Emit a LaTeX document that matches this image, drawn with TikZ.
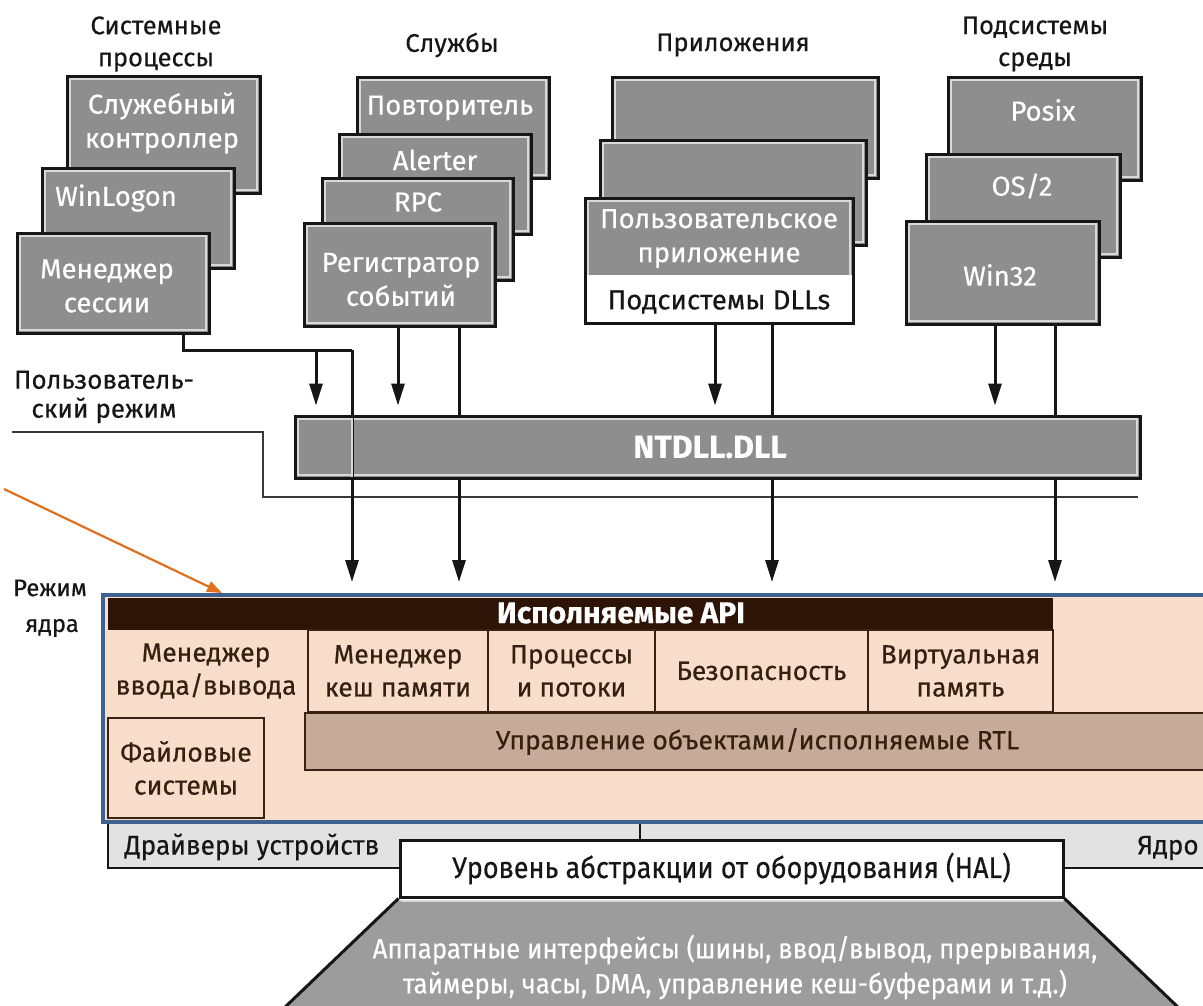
\documentclass[tikz,border=0pt]{standalone}
\usepackage{fontspec}
\setmainfont{Fira Sans}[FakeBold=0.4]
\usetikzlibrary{arrows.meta}

\definecolor{boxgray}{HTML}{8E8E8E}
\definecolor{boxrim}{HTML}{D9D9D9}
\definecolor{ink}{HTML}{161616}
\definecolor{peach}{HTML}{F9DDCB}
\definecolor{apibrown}{HTML}{2D1406}
\definecolor{cellline}{HTML}{3A2212}
\definecolor{celltext}{HTML}{33200F}
\definecolor{rtlfill}{HTML}{C8AA9A}
\definecolor{kframe}{HTML}{3E6190}
\definecolor{drvgray}{HTML}{E2E2E2}
\definecolor{hwgray}{HTML}{9C9C9C}
\definecolor{pointer}{HTML}{E0701E}

\tikzset{
  gbox/.style={draw=ink, line width=3pt, fill=boxgray, inner sep=0pt,
    path picture={\draw[boxrim, line width=1.5pt]
      ([shift={(3pt,-3pt)}]path picture bounding box.north west) rectangle
      ([shift={(-3pt,3pt)}]path picture bounding box.south east);}},
  dllbox/.style={draw=ink, line width=3pt, fill=white, inner sep=0pt,
    path picture={\fill[boxgray] (path picture bounding box.north west) rectangle
      ([yshift=-77pt]path picture bounding box.north east);
      \draw[boxrim, line width=1.5pt]
      ([shift={(3pt,-77pt)}]path picture bounding box.north west) |-
      ([shift={(-3pt,-3pt)}]path picture bounding box.north east) --
      ([shift={(-3pt,-77pt)}]path picture bounding box.north east);}},
  hdr/.style={inner sep=0pt, align=center, text=ink,
    font=\fontsize{25.5}{32}\selectfont},
  wtxt/.style={inner sep=0pt, align=center, text=white,
    font=\fontsize{27.5}{34}\selectfont},
  side/.style={inner sep=0pt, align=center, text=ink,
    font=\fontsize{26}{29}\selectfont},
  cell/.style={draw=cellline, line width=2.5pt, fill=peach, inner sep=0pt,
    align=center, text=celltext, font=\fontsize{26.5}{33}\selectfont},
  bound/.style={draw=ink!85, line width=2.5pt},
  wire/.style={draw=ink, line width=3pt},
  arr/.style={wire, -{Triangle[length=22pt,width=13pt]}},
  ptr/.style={draw=pointer, line width=2.2pt, -{Triangle[length=15pt,width=11pt]}},
}

\begin{document}
\begin{tikzpicture}[x=1pt,y=-1pt]
\useasboundingbox (0,0) rectangle (1203,1005);
\clip (0,0) rectangle (1203,1005);
\fill[white] (0,0) rectangle (1203,1005);

% ---- column headings
\node[hdr] (hSys) at (156,44) {Системные\\процессы};
\node[hdr] (hSrv) at (452,45) {Службы};
\node[hdr] (hApp) at (733,45) {Приложения};
\node[hdr] (hEnv) at (1035,44) {Подсистемы\\среды};

% ---- system processes
\node[gbox, minimum width=193pt, minimum height=117pt] (sp1) at (163.5,134.5) {};
\node[wtxt] (tsp1) at (162,123) {Служебный\\контроллер};
\node[gbox, minimum width=192pt, minimum height=100pt] (sp2) at (138,218) {};
\node[wtxt] (tsp2) at (116,198) {WinLogon};
\node[gbox, minimum width=192pt, minimum height=100pt] (sp3) at (113,283) {};
\node[wtxt] (tsp3) at (107,286) {Менеджер\\сессии};

% ---- services
\node[gbox, minimum width=192pt, minimum height=101pt] (sv1) at (453,127.5) {};
\node[wtxt] (tsv1) at (450,108) {Повторитель};
\node[gbox, minimum width=192pt, minimum height=100pt] (sv2) at (435,184) {};
\node[wtxt] (tsv2) at (435,160) {Alerter};
\node[gbox, minimum width=191pt, minimum height=102pt] (sv3) at (417.5,229) {};
\node[wtxt] (tsv3) at (418,202) {RPC};
\node[gbox, minimum width=191pt, minimum height=103pt] (sv4) at (399.5,274.5) {};
\node[wtxt] (tsv4) at (401,279.5) {Регистратор\\событий};

% ---- applications
\node[gbox, minimum width=266pt, minimum height=101pt] (ap1) at (745,127.5) {};
\node[gbox, minimum width=266pt, minimum height=105pt] (ap2) at (733,192.5) {};
\node[dllbox, minimum width=268pt, minimum height=125pt] (ap3) at (719,260.5) {};
\node[wtxt] (tap3) at (719,238.5) {Пользовательское\\приложение};
\node[wtxt, text=ink] (tdll) at (719,302) {Подсистемы DLLs};

% ---- environment subsystems
\node[gbox, minimum width=193pt, minimum height=103pt] (ev1) at (1044.5,128.5) {};
\node[wtxt] (tev1) at (1043,110) {Posix};
\node[gbox, minimum width=194pt, minimum height=103pt] (ev2) at (1023,205.5) {};
\node[wtxt] (tev2) at (1022,186) {OS/2};
\node[gbox, minimum width=193pt, minimum height=103pt] (ev3) at (1002.5,272.5) {};
\node[wtxt] (tev3) at (1000,275) {Win32};

% ---- mode labels and boundary
\node[side] (umode) at (104,397) {Пользователь-\\ский режим};
\node[side, font=\fontsize{24}{29}\selectfont] (kmode1) at (50,588) {Режим};
\node[side, font=\fontsize{24}{29}\selectfont] (kmode2) at (52,628) {ядра};
\draw[bound] (12,432) -- (263,432) -- (263,497) -- (1138,497);

% ---- driver / kernel strip
\node[fill=drvgray, inner sep=0pt, minimum width=1102pt, minimum height=46pt] (drv) at (659,845) {};
\draw[wire, line width=2.5pt] (drv.north west) |- (drv.south east);
\node[side, font=\fontsize{27}{29}\selectfont] (tdrv) at (252,847) {\scalebox{0.97}[1]{Драйверы устройств}};
\node[side, font=\fontsize{27}{29}\selectfont] (tker) at (1168,848) {\scalebox{0.97}[1]{Ядро}};

% ---- executive frame
\node[draw=kframe, line width=4pt, fill=peach, inner sep=0pt,
      minimum width=1107pt, minimum height=227pt] (kern) at (656.5,708.5) {};
\node[fill=apibrown, inner sep=0pt, minimum width=945pt, minimum height=32pt] (api) at (580.5,614) {};
\node[inner sep=0pt, text=white, font=\fontsize{30}{30}\selectfont\bfseries] (tapi) at (621,613) {Исполняемые API};

\node[cell, draw=none, minimum width=200pt, minimum height=82pt] (io) at (206,671) {Менеджер\\ввода/вывода};
\node[cell, minimum width=180pt, minimum height=82pt] (mm) at (398,671) {Менеджер\\кеш памяти};
\node[cell, minimum width=167pt, minimum height=82pt] (pt) at (571.5,671) {Процессы\\и потоки};
\node[cell, minimum width=213pt, minimum height=82pt] (sec) at (761.5,671) {Безопасность};
\node[cell, minimum width=185pt, minimum height=82pt] (vm) at (960.5,671) {Виртуальная\\память};
\node[cell, fill=rtlfill, minimum width=905pt, minimum height=57pt] (rtl) at (757.5,741.5) {Управление объектами/исполняемые RTL};
\node[cell, minimum width=156pt, minimum height=100pt] (fs) at (186,768) {Файловые\\системы};

% ---- hardware abstraction layer
\coordinate (xdiv) at (640,0);
\node[draw=ink, line width=3pt, fill=white, inner sep=0pt, minimum width=663pt, minimum height=57pt,
      text=ink, font=\fontsize{30}{30}\selectfont] (hal) at (731.5,868.5)
      {\scalebox{0.9}[1]{Уровень абстракции от оборудования (HAL)}};
\draw[wire, line width=2.5pt] (kern.south -| xdiv) -- (hal.north -| xdiv);

\coordinate (hwl) at (282,1010);
\coordinate (hwr) at (1181,1010);
\fill[hwgray] ([yshift=-2pt]hal.south west) -- ([yshift=-2pt]hal.south east) -- (hwr) -- (hwl) -- cycle;
\draw[boxrim, line width=1.5pt] ([shift={(2pt,-3pt)}]hal.south west) -- ([shift={(-2pt,-3pt)}]hal.south east);
\draw[wire, line width=3pt] (hal.south west) -- (hwl);
\draw[wire, line width=3pt] (hal.south east) -- (hwr);
\node[inner sep=0pt, align=center, text=white, font=\fontsize{28}{35}\selectfont] (thw) at (735,967)
  {\scalebox{0.92}[1]{Аппаратные интерфейсы (шины, ввод/вывод, прерывания,}\\
   \scalebox{0.92}[1]{таймеры, часы, DMA, управление кеш-буферами и т.д.)}};

% ---- NTDLL bar
\node[gbox, minimum width=845pt, minimum height=62pt] (ntdll) at (717.5,447) {};
\node[inner sep=0pt, text=white, font=\fontsize{32}{32}\selectfont\bfseries] (tnt) at (710,447) {NTDLL.DLL};

% ---- connectors to NTDLL and to the executive
\coordinate (xs) at (183,0);
\coordinate (xb) at (316,0);
\coordinate (jn) at (352,350);
\coordinate (xr1) at (398,0);
\coordinate (xr2) at (459,0);
\coordinate (xa1) at (715,0);
\coordinate (xa2) at (772,0);
\coordinate (xe1) at (995,0);
\coordinate (xe2) at (1055,0);
\coordinate (xo) at (222,0);
\coordinate (optr) at (4,489);

\draw[wire] (sp3.south -| xs) |- (jn);
\draw[arr, shorten >=11pt] (jn) -- (kern.north -| jn);
\draw[boxrim, line width=2pt] ([yshift=-3pt]ntdll.north -| jn) -- ([yshift=3pt]ntdll.south -| jn);
\draw[arr, shorten >=9pt] (xb |- jn) -- (ntdll.north -| xb);

\draw[arr, shorten >=9pt] (sv4.south -| xr1) -- (ntdll.north -| xr1);
\draw[wire] (sv4.south -| xr2) -- (ntdll.north -| xr2);
\draw[arr, shorten >=11pt] (ntdll.south -| xr2) -- (kern.north -| xr2);

\draw[arr, shorten >=9pt] (ap3.south -| xa1) -- (ntdll.north -| xa1);
\draw[wire] (ap3.south -| xa2) -- (ntdll.north -| xa2);
\draw[arr, shorten >=11pt] (ntdll.south -| xa2) -- (kern.north -| xa2);

\draw[arr, shorten >=9pt] (ev3.south -| xe1) -- (ntdll.north -| xe1);
\draw[wire] (ev3.south -| xe2) -- (ntdll.north -| xe2);
\draw[arr, shorten >=11pt] (ntdll.south -| xe2) -- (kern.north -| xe2);

\draw[ptr] (optr) -- (kern.north -| xo);
\end{tikzpicture}
\end{document}
